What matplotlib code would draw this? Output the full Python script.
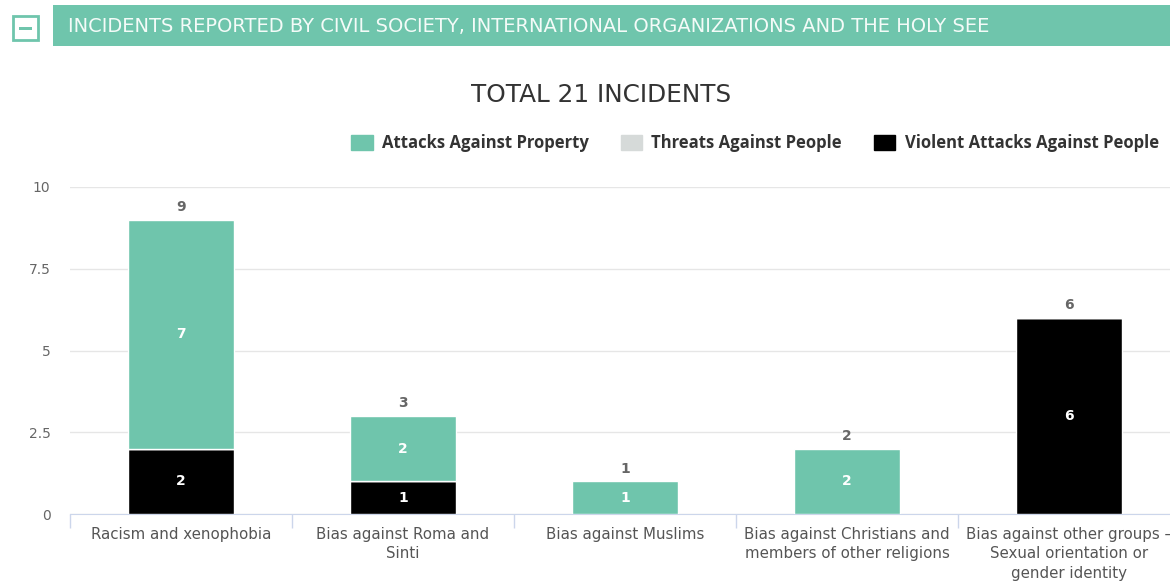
import matplotlib.pyplot as plt
from matplotlib.patches import Rectangle

# -----------------------------
# DATA
# -----------------------------
categories = [
    "Racism and xenophobia",
    "Bias against Roma and\nSinti",
    "Bias against Muslims",
    "Bias against Christians and\nmembers of other religions",
    "Bias against other groups \u2013\nSexual orientation or\ngender identity",
]
property_attacks = [7, 2, 1, 2, 0]
threats_people = [0, 0, 0, 0, 0]
violent_attacks = [2, 1, 0, 0, 6]

series_names = ["Attacks Against Property", "Threats Against People", "Violent Attacks Against People"]
teal = "#6fc5ac"
grey = "#d6dad9"
black = "#000000"

W, H = 1170, 582
fig = plt.figure(figsize=(W / 100, H / 100), dpi=100)
fig.patch.set_facecolor("white")

# -----------------------------
# HEADER BAR
# -----------------------------
fig.patches.append(Rectangle((53 / W, 1 - 46 / H), (W - 53) / W, 41 / H,
                             transform=fig.transFigure, facecolor=teal, edgecolor="none"))
fig.patches.append(Rectangle((13 / W, 1 - 40 / H), 25 / W, 24 / H,
                             transform=fig.transFigure, facecolor="white",
                             edgecolor=teal, linewidth=2))
fig.patches.append(Rectangle((19 / W, 1 - 29.5 / H), 13 / W, 2.5 / H,
                             transform=fig.transFigure, facecolor=teal, edgecolor="none"))
fig.text(68 / W, 1 - 27 / H,
         "INCIDENTS REPORTED BY CIVIL SOCIETY, INTERNATIONAL ORGANIZATIONS AND THE HOLY SEE",
         color="#f4fbf8", fontsize=14, va="center", ha="left", family="DejaVu Sans")

# -----------------------------
# CHART
# -----------------------------
left, right = 70, 1180
bottom, top = 514, 187
ax = fig.add_axes([left / W, 1 - bottom / H, (right - left) / W, (bottom - top) / H])

x = list(range(len(categories)))
width = 0.48
ax.bar(x, violent_attacks, width, color=black, edgecolor="white", linewidth=1, zorder=3)
ax.bar(x, threats_people, width, bottom=violent_attacks, color=grey,
       edgecolor="white", linewidth=1, zorder=3)
base2 = [v + t for v, t in zip(violent_attacks, threats_people)]
ax.bar(x, property_attacks, width, bottom=base2, color=teal,
       edgecolor="white", linewidth=1, zorder=3)

# segment labels
for vals, bases in [(violent_attacks, [0] * 5), (property_attacks, base2)]:
    for i, (v, b) in enumerate(zip(vals, bases)):
        if v > 0:
            ax.text(i, b + v / 2, str(v), ha="center", va="center", color="white",
                    fontsize=10, fontweight="bold", zorder=4)

# totals
totals = [p + t + v for p, t, v in zip(property_attacks, threats_people, violent_attacks)]
for i, t in enumerate(totals):
    ax.text(i, t + 0.17, str(t), ha="center", va="bottom", color="#666666",
            fontsize=10, fontweight="bold")

ax.set_xlim(-0.5, len(categories) - 0.5)
ax.set_ylim(0, 10)
ax.set_yticks([0, 2.5, 5, 7.5, 10])
ax.set_yticklabels(["0", "2.5", "5", "7.5", "10"], color="#666666", fontsize=10)
ax.tick_params(axis="y", length=0, pad=14)
ax.yaxis.grid(True, color="#e6e6e6", linewidth=1, zorder=0)
ax.set_axisbelow(True)

ax.set_xticks(x)
ax.set_xticklabels(categories, color="#555555", fontsize=10.8, linespacing=1.38)
ax.set_xticks([i - 0.5 for i in range(len(categories) + 1)], minor=True)
ax.tick_params(axis="x", which="major", length=0, pad=9)
ax.tick_params(axis="x", which="minor", length=10, color="#ccd6eb", width=1)

for s in ["top", "right", "left"]:
    ax.spines[s].set_visible(False)
ax.spines["bottom"].set_color("#ccd6eb")

fig.text(601 / W, 1 - 95 / H, "TOTAL 21 INCIDENTS", ha="center", va="center",
         fontsize=17.8, color="#333333")

# legend
handles = [Rectangle((0, 0), 1, 1, color=c) for c in [teal, grey, black]]
leg = fig.legend(handles, series_names, loc="center", bbox_to_anchor=(755 / W, 1 - 143 / H),
                 ncol=3, frameon=False, handlelength=1.3, handleheight=1.0,
                 handletextpad=0.55, columnspacing=1.9,
                 prop={"family": "Open Sans", "weight": "bold", "size": 12})
for t in leg.get_texts():
    t.set_color("#333333")

fig.savefig("out.png", dpi=100)
